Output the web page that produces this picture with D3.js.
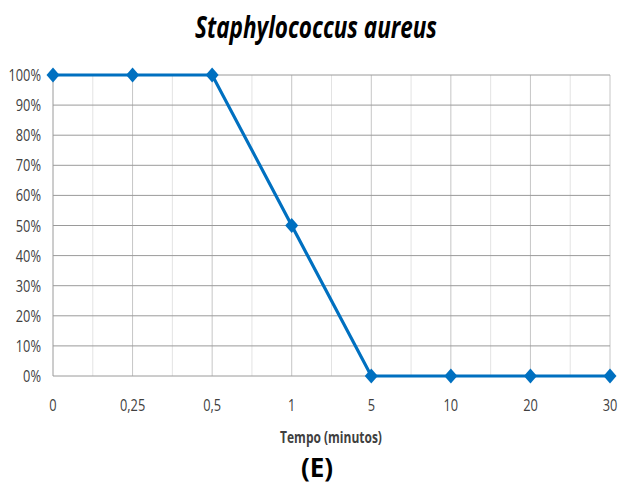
<!DOCTYPE html>
<html>
<head>
<meta charset="utf-8">
<script src="https://cdn.jsdelivr.net/npm/d3@7"></script>
<style>
  body { margin: 0; background: #fff; }
  svg { display: block; }
  text { font-family: "Open Sans", sans-serif; }
</style>
</head>
<body>
<div id="chart-area"></div>
<script>
const tempos = ['0', '0,25', '0,5', '1', '5', '10', '20', '30'];
const survival = [100, 100, 100, 50, 0, 0, 0, 0];
const yTicks = [0, 10, 20, 30, 40, 50, 60, 70, 80, 90, 100];

const W = 619, H = 484;
const margin = {left: 53, right: 9, top: 75, bottom: 108};
const width = W - margin.left - margin.right,
    height = H - margin.top - margin.bottom;

const svg = d3.select('#chart-area')
    .append('svg')
    .attr('width', W)
    .attr('height', H);

const g = svg.append('g')
    .attr('transform', 'translate(' + margin.left + ', ' + margin.top + ')');

const xScale = d3.scalePoint()
    .domain(tempos)
    .range([0, width]);

const yScale = d3.scaleLinear()
    .domain([0, 100])
    .range([height, 0]);

// condensed look (no narrow font installed) -> squeeze horizontally
const squeeze = 0.8;

// minor vertical grid (midpoints)
const step = xScale.step();
g.selectAll('.minor')
    .data(tempos.slice(1))
    .enter().append('line')
    .attr('x1', d => xScale(d) - step / 2)
    .attr('x2', d => xScale(d) - step / 2)
    .attr('y1', 0).attr('y2', height)
    .attr('stroke', '#e3e3e3')
    .attr('stroke-width', 1);

// major vertical grid
g.selectAll('.major')
    .data(tempos.slice(1))
    .enter().append('line')
    .attr('x1', d => xScale(d))
    .attr('x2', d => xScale(d))
    .attr('y1', 0).attr('y2', height)
    .attr('stroke', '#c6c6c6')
    .attr('stroke-width', 1);

// horizontal grid
g.selectAll('.hgrid')
    .data(yTicks)
    .enter().append('line')
    .attr('x1', 0).attr('x2', width)
    .attr('y1', d => yScale(d))
    .attr('y2', d => yScale(d))
    .attr('stroke', '#9a9a9a')
    .attr('stroke-width', 1);

// left axis line
g.append('line')
    .attr('x1', 0).attr('x2', 0)
    .attr('y1', 0).attr('y2', height)
    .attr('stroke', '#9a9a9a');

// y labels
g.selectAll('.ylab')
    .data(yTicks)
    .enter().append('text')
    .attr('transform', d => 'translate(-12,' + (yScale(d) + 6) + ') scale(' + squeeze + ',1)')
    .attr('text-anchor', 'end')
    .attr('font-size', '16px')
    .attr('fill', '#404040')
    .text(d => d + '%');

// x labels
g.selectAll('.xlab')
    .data(tempos)
    .enter().append('text')
    .attr('transform', d => 'translate(' + xScale(d) + ',' + (height + 35) + ') scale(' + squeeze + ',1)')
    .attr('text-anchor', 'middle')
    .attr('font-size', '16px')
    .attr('fill', '#404040')
    .text(d => d);

const pts = tempos.map((t, i) => ({t: t, v: survival[i]}));

const line = d3.line()
    .x(d => xScale(d.t))
    .y(d => yScale(d.v));

g.append('path')
    .datum(pts)
    .attr('d', line)
    .attr('fill', 'none')
    .attr('stroke', '#0070c0')
    .attr('stroke-width', 3.2);

g.selectAll('.marker')
    .data(pts)
    .enter().append('path')
    .attr('d', 'M0,-7.5L6.5,0L0,7.5L-6.5,0Z')
    .attr('transform', d => 'translate(' + xScale(d.t) + ',' + yScale(d.v) + ')')
    .attr('fill', '#0070c0');

// title
svg.append('text')
    .attr('transform', 'translate(316,38) scale(0.75,1)')
    .attr('text-anchor', 'middle')
    .attr('font-size', '30px')
    .attr('font-weight', 'bold')
    .attr('font-style', 'italic')
    .attr('fill', '#000')
    .text('Staphylococcus aureus');

svg.append('text')
    .attr('transform', 'translate(331,443) scale(0.75,1)')
    .attr('text-anchor', 'middle')
    .attr('font-size', '16px')
    .attr('font-weight', 'bold')
    .attr('fill', '#404040')
    .text('Tempo (minutos)');

svg.append('text')
    .attr('x', 317)
    .attr('y', 477)
    .attr('text-anchor', 'middle')
    .attr('font-family', 'Liberation Sans, Arial, sans-serif')
    .attr('font-size', '26px')
    .attr('font-weight', 'bold')
    .attr('fill', '#000')
    .text('(E)');
</script>
</body>
</html>
